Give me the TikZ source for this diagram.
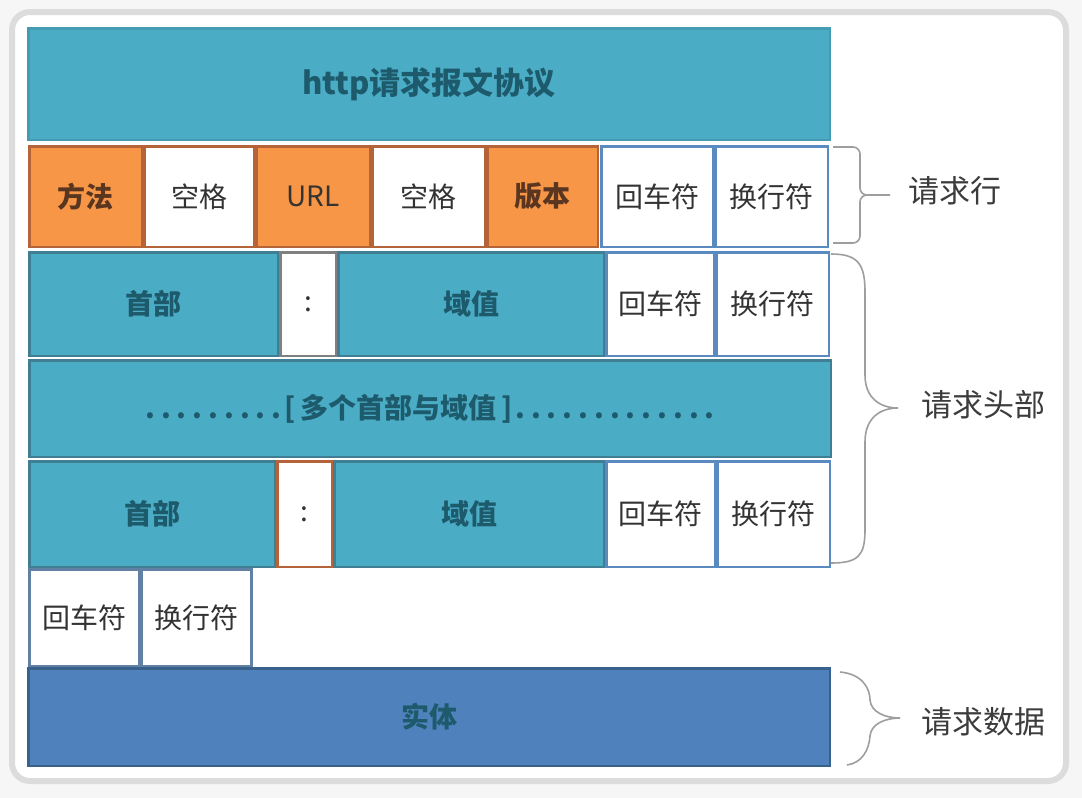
\documentclass[tikz,border=0pt]{standalone}
\usepackage{fontspec}
\setmainfont{Noto Sans CJK SC}
\definecolor{bgc}{HTML}{F6F6F6}
\definecolor{cardb}{HTML}{DCDCDC}
\definecolor{tealf}{HTML}{4BACC6}
\definecolor{tealb}{HTML}{3F7E93}
\definecolor{orf}{HTML}{F79646}
\definecolor{orb}{HTML}{B5643A}
\definecolor{bluef}{HTML}{4F81BD}
\definecolor{blueb}{HTML}{38618C}
\definecolor{wb}{HTML}{5A8AC0}
\definecolor{tealtxt}{HTML}{1D5A6C}
\definecolor{ortxt}{HTML}{5A3520}
\definecolor{wtxt}{HTML}{333333}
\definecolor{lbl}{HTML}{3C3C3C}
\definecolor{brc}{HTML}{9E9E9E}
\newcommand\mycell[7]{%
  \pgfmathsetmacro\cw{#4-#2-2.5}\pgfmathsetmacro\ch{#5-#3-2.5}%
  \node[cellbase,#6,minimum width=\cw pt,minimum height=\ch pt] (#1) at ({(#2+#4)/2},{(#3+#5)/2}) {#7};}
\newcommand\mydots[1]{\foreach \i in {1,...,#1}{\makebox[15.8pt]{.}}}
\begin{document}
\begin{tikzpicture}[x=1pt,y=-1pt,
  cellbase/.style={draw,rectangle,line width=2.5pt,inner sep=0pt,outer sep=0pt,font=\fontsize{28}{30}\selectfont},
  tealcell/.style={fill=tealf,draw=tealb,text=tealtxt,font=\fontsize{28}{30}\selectfont\bfseries},
  orcell/.style={fill=orf,draw=orb,text=ortxt,font=\fontsize{28}{30}\selectfont\bfseries},
  wocell/.style={fill=white,draw=orb,text=wtxt},
  wbcell/.style={fill=white,draw=wb,text=wtxt},
  wgcell/.style={fill=white,draw=gray,text=wtxt},
  bodycell/.style={fill=bluef,draw=blueb,text=tealtxt,font=\fontsize{28}{30}\selectfont\bfseries},
  brace/.style={draw=brc,line width=1.6pt},
  lab/.style={text=lbl,font=\fontsize{31}{33}\selectfont,inner sep=0pt}]
\useasboundingbox (0,0) rectangle (1082,798);
\fill[bgc] (0,0) rectangle (1082,798);
\draw[cardb,line width=6pt,fill=white,rounded corners=18pt] (12,12) rectangle (1066,781);
% header
\mycell{head}{27}{27}{831}{141}{fill=tealf,draw=tealf!90!black,text=tealtxt,font=\fontsize{31}{33}\selectfont\bfseries}{http请求报文协议}
% row 1
\mycell{fangfa}{28}{145}{143}{248}{orcell}{方法}
\mycell{kong1}{143}{145}{255}{248}{wocell}{空格}
\mycell{url}{255}{145}{371}{248}{orcell,text=wtxt,font=\fontsize{28}{30}\selectfont}{URL}
\mycell{kong2}{371}{145}{486}{248}{wocell}{空格}
\mycell{banben}{486}{145}{599}{248}{orcell}{版本}
\mycell{cr1}{600}{145}{714}{248}{wbcell}{回车符}
\mycell{lf1}{714}{145}{829}{248}{wbcell}{换行符}
% row 2
\mycell{sb1}{28}{251}{279}{357}{tealcell}{首部}
\mycell{colon1}{279}{251}{337}{357}{wgcell}{:}
\mycell{yz1}{337}{251}{605}{357}{tealcell}{域值}
\mycell{cr2}{605}{251}{715}{357}{wbcell}{回车符}
\mycell{lf2}{715}{251}{830}{357}{wbcell}{换行符}
% row 3
\mycell{multi}{28}{359}{832}{458}{tealcell}{\mydots{9}[\,多个首部与域值\,]\mydots{13}}
% row 4
\mycell{sb2}{28}{460}{276}{568}{tealcell}{首部}
\mycell{colon2}{276}{460}{333}{568}{wocell}{:}
\mycell{yz2}{333}{460}{605}{568}{tealcell}{域值}
\mycell{cr3}{605}{460}{716}{568}{wbcell}{回车符}
\mycell{lf3}{716}{460}{831}{568}{wbcell}{换行符}
% row 5
\mycell{cr4}{28}{568}{140}{667}{wbcell,draw=blueb!80}{回车符}
\mycell{lf4}{140}{568}{252}{667}{wbcell,draw=blueb!80}{换行符}
\coordinate (blankt) at (252,568);
\coordinate (blankb) at (252,667);
\draw[blueb!80,line width=2.5pt] (blankt) -- (blankb);
% row 6
\mycell{body}{27}{667}{831}{767}{bodycell}{实体}
% labels
\node[lab] (l1) at (955,191) {请求行};
\node[lab] (l2) at (983,405) {请求头部};
\node[lab] (l3) at (983,722) {请求数据};
% braces
\draw[brace] (833,147) -- (853,147) to[out=0,in=90] (860,154) -- (860,188) to[out=270,in=180] (867,195) -- (890,195)
  (867,195) to[out=180,in=90] (860,202) -- (860,236) to[out=270,in=0] (853,243) -- (833,243);
\draw[brace] (831,254) .. controls (858,254) and (865,264) .. (865,292) -- (865,375) .. controls (865,398) and (880,408) .. (898,408)
  .. controls (880,408) and (865,418) .. (865,442) -- (865,530) .. controls (865,556) and (858,563) .. (831,563);
\draw[brace] (840,672) .. controls (862,674) and (870,688) .. (870,700) .. controls (871,712) and (885,718) .. (900,718)
  .. controls (885,718) and (871,724) .. (870,736) .. controls (869,750) and (862,763) .. (847,765);
\end{tikzpicture}
\end{document}
